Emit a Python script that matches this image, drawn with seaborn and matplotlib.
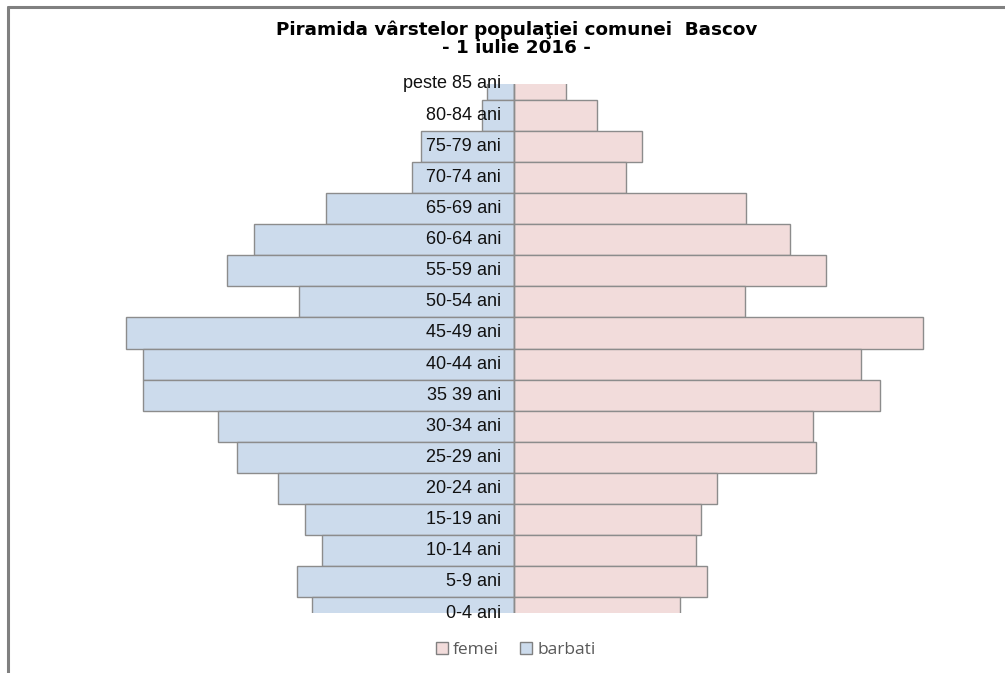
import matplotlib
matplotlib.use('Agg')
import matplotlib.pyplot as plt
from matplotlib.patches import Patch
from matplotlib.lines import Line2D
import seaborn as sns
import pandas as pd

# age groups, from the top of the pyramid down
grupe = ['peste 85 ani', '80-84 ani', '75-79 ani', '70-74 ani', '65-69 ani',
         '60-64 ani', '55-59 ani', '50-54 ani', '45-49 ani', '40-44 ani',
         '35 39 ani', '30-34 ani', '25-29 ani', '20-24 ani', '15-19 ani',
         '10-14 ani', '5-9 ani', '0-4 ani']
barbati = [27, 32, 93, 102, 188, 260, 287, 215, 388, 371,
           371, 296, 277, 236, 209, 192, 217, 202]
femei = [52, 83, 128, 112, 232, 276, 312, 231, 409, 347,
         366, 299, 302, 203, 187, 182, 193, 166]

culoare_b = '#CCDBEC'
culoare_f = '#F2DCDB'
margine = '#8C8C8C'

df = pd.DataFrame({'grupa': grupe, 'barbati': [-v for v in barbati], 'femei': femei})

sns.set_theme(style='white')
plt.rcParams['font.family'] = ['Liberation Sans', 'DejaVu Sans']

fig = plt.figure(figsize=(10.05, 6.73), dpi=100)
ax = fig.add_axes([20 / 1005, 60 / 673, 980 / 1005, 529 / 673])

sns.barplot(data=df, x='barbati', y='grupa', order=grupe, orient='h', width=1.0,
            color=culoare_b, edgecolor=margine, linewidth=1, saturation=1, ax=ax)
sns.barplot(data=df, x='femei', y='grupa', order=grupe, orient='h', width=1.0,
            color=culoare_f, edgecolor=margine, linewidth=1, saturation=1, ax=ax)

ax.set_xlim(-494, 486)
ax.set_ylim(17, 0)
ax.axvline(0, color=margine, lw=1)
for s in ax.spines.values():
    s.set_visible(False)
ax.set_xticks([])
ax.set_yticks([])
ax.set_xlabel('')
ax.set_ylabel('')

for i, g in enumerate(grupe):
    ax.text(-13, i, g, ha='right', va='center', fontsize=13, color='#111111', clip_on=False)

fig.text(0.514, 1 - 30 / 673, 'Piramida vârstelor populaţiei comunei  Bascov',
         ha='center', va='center', fontsize=13.2, fontweight='bold', family='DejaVu Sans',
         color='black')
fig.text(0.514, 1 - 48 / 673, '- 1 iulie 2016 -',
         ha='center', va='center', fontsize=13.2, fontweight='bold', family='DejaVu Sans',
         color='black')

# chart frame (left and top edges only visible)
fig.add_artist(Line2D([7.5 / 1005, 7.5 / 1005], [0, 1 - 7 / 673], color='#808080', lw=2.2,
                      transform=fig.transFigure))
fig.add_artist(Line2D([7.5 / 1005, 1], [1 - 7 / 673, 1 - 7 / 673], color='#808080', lw=2.2,
                      transform=fig.transFigure))

handles = [Patch(facecolor=culoare_f, edgecolor='#808080', label='femei'),
           Patch(facecolor=culoare_b, edgecolor='#808080', label='barbati')]
fig.legend(handles=handles, loc='center', bbox_to_anchor=(0.513, 1 - 650 / 673), ncol=2,
           frameon=False, handlelength=0.7, handleheight=0.7, handletextpad=0.3,
           columnspacing=1.2, prop={'family': 'Open Sans', 'size': 12.5}, labelcolor='#595959')

fig.savefig('out.png', dpi=100)
